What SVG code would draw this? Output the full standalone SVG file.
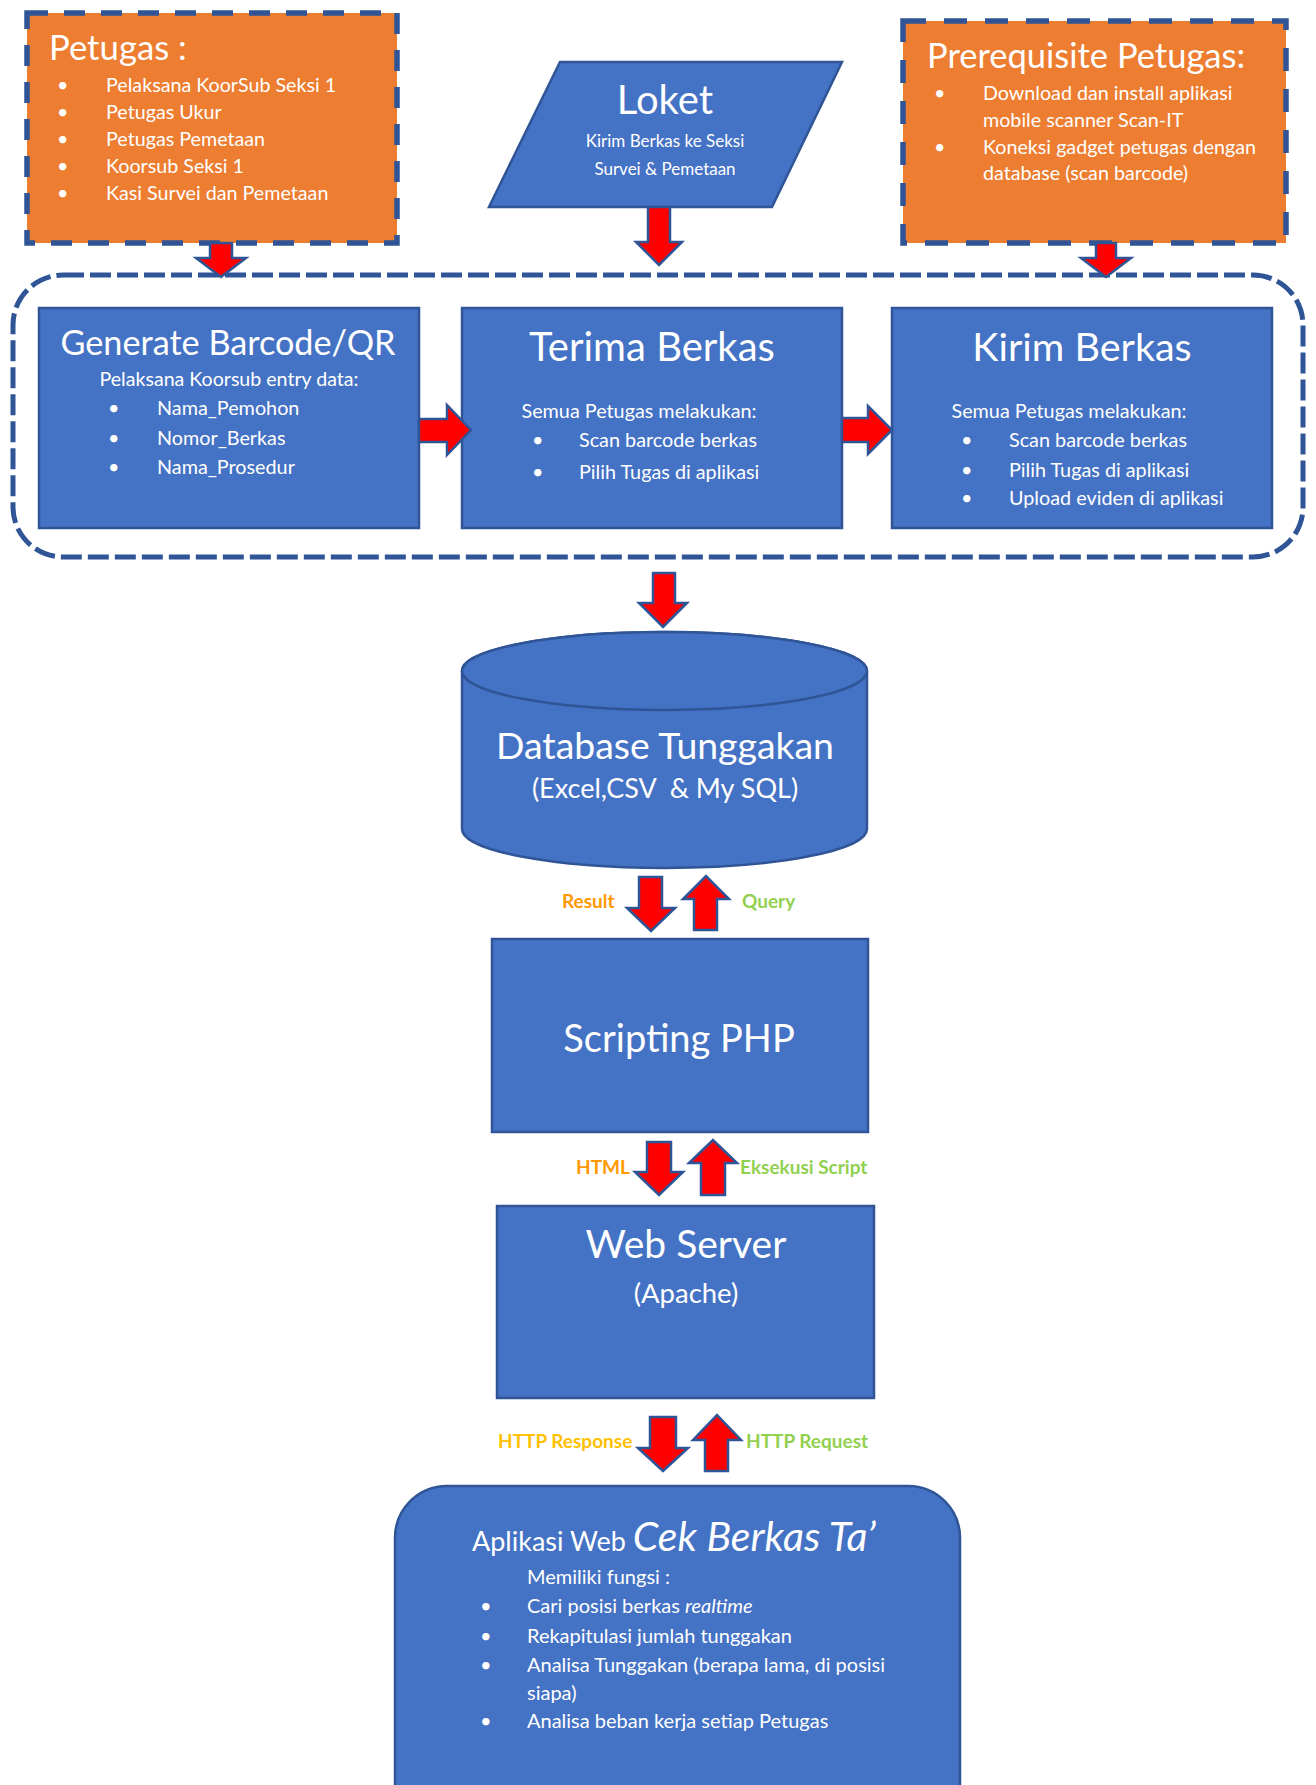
<svg xmlns="http://www.w3.org/2000/svg" width="1316" height="1785" viewBox="0 0 1316 1785">
<style>
text{font-family:Lato,"Liberation Sans",sans-serif;fill:#fff}
.box{fill:#4472C4;stroke:#2F5597;stroke-width:2.5}
.org{fill:#ED7D31;stroke:#2F5597;stroke-width:5.5}
.arr{fill:#FF0000;stroke:#2F5597;stroke-width:2.5;stroke-linejoin:miter}
.c{text-anchor:middle}
.lbl{font-weight:bold;font-size:19px}
.o{fill:#FF9900}.y{fill:#FFC000}.g{fill:#92D050}
.li{font-size:19.7px}
.li2{font-size:19.8px}
</style>
<rect width="1316" height="1785" fill="#fff"/>

<g id="container">
<rect x="13" y="275" width="1290" height="282" rx="50" fill="none" stroke="#2F5597" stroke-width="5" stroke-dasharray="21 6"/>
</g>

<g id="petugas">
<rect class="org" x="27" y="13" width="370" height="230" stroke-dasharray="21 16"/>
<text x="49" y="60" font-size="34.7">Petugas :</text>
<g class="li">
<text x="57" y="92">•</text><text x="106" y="92">Pelaksana KoorSub Seksi 1</text>
<text x="57" y="119">•</text><text x="106" y="119">Petugas Ukur</text>
<text x="57" y="146">•</text><text x="106" y="146">Petugas Pemetaan</text>
<text x="57" y="173">•</text><text x="106" y="173">Koorsub Seksi 1</text>
<text x="57" y="200">•</text><text x="106" y="200">Kasi Survei dan Pemetaan</text>
</g>
</g>

<g id="loket">
<polygon class="box" points="560,62 842,62 772,207 489,207"/>
<text class="c" x="665" y="114" font-size="40">Loket</text>
<text class="c" x="665" y="147" font-size="17">Kirim Berkas ke Seksi</text>
<text class="c" x="665" y="175" font-size="17">Survei &amp; Pemetaan</text>
</g>

<g id="prerequisite">
<rect class="org" x="903" y="21" width="383" height="222" stroke-dasharray="23 18"/>
<text x="927" y="68" font-size="34.5">Prerequisite Petugas:</text>
<g class="li">
<text x="934" y="100">•</text><text x="983" y="100">Download dan install aplikasi</text>
<text x="983" y="127">mobile scanner Scan-IT</text>
<text x="934" y="154">•</text><text x="983" y="154">Koneksi gadget petugas dengan</text>
<text x="983" y="180">database (scan barcode)</text>
</g>
</g>

<g id="generate">
<rect class="box" x="39" y="308" width="380" height="220"/>
<text class="c" x="228" y="355" font-size="34.2">Generate Barcode/QR</text>
<text class="c" x="229" y="386" font-size="19.6">Pelaksana Koorsub entry data:</text>
<g class="li2">
<text x="108" y="415">•</text><text x="157" y="415">Nama_Pemohon</text>
<text x="108" y="445">•</text><text x="157" y="445">Nomor_Berkas</text>
<text x="108" y="474">•</text><text x="157" y="474">Nama_Prosedur</text>
</g>
</g>

<g id="terima">
<rect class="box" x="462" y="308" width="380" height="220"/>
<text class="c" x="652" y="361" font-size="40">Terima Berkas</text>
<text class="c" x="639" y="418" font-size="19.8">Semua Petugas melakukan:</text>
<g class="li2">
<text x="532" y="447">•</text><text x="579" y="447">Scan barcode berkas</text>
<text x="532" y="479">•</text><text x="579" y="479">Pilih Tugas di aplikasi</text>
</g>
</g>

<g id="kirim">
<rect class="box" x="892" y="308" width="380" height="220"/>
<text class="c" x="1082" y="361" font-size="39.5">Kirim Berkas</text>
<text class="c" x="1069" y="418" font-size="19.8">Semua Petugas melakukan:</text>
<g class="li2">
<text x="961" y="447">•</text><text x="1009" y="447">Scan barcode berkas</text>
<text x="961" y="477">•</text><text x="1009" y="477">Pilih Tugas di aplikasi</text>
<text x="961" y="505">•</text><text x="1009" y="505">Upload eviden di aplikasi</text>
</g>
</g>

<g id="database">
<path class="box" d="M462,671 L462,829 A202.5,39 0 0 0 867,829 L867,671 A202.5,39 0 0 0 462,671 Z"/>
<ellipse class="box" cx="664.5" cy="671" rx="202.5" ry="39"/>
<text class="c" x="665" y="759" font-size="37.4">Database Tunggakan</text>
<text class="c" x="665" y="798" font-size="27" xml:space="preserve">(Excel,CSV  &amp; My SQL)</text>
</g>

<g id="scripting">
<rect class="box" x="492" y="939" width="376" height="193"/>
<text class="c" x="679" y="1052" font-size="38">Scripting PHP</text>
</g>

<g id="webserver">
<rect class="box" x="497" y="1206" width="377" height="192"/>
<text class="c" x="686" y="1258" font-size="39">Web Server</text>
<text class="c" x="686" y="1303" font-size="27.5">(Apache)</text>
</g>

<g id="aplikasi">
<rect class="box" x="395" y="1486" width="565" height="360" rx="52"/>
<text x="472" y="1551"><tspan font-size="27">Aplikasi Web </tspan><tspan font-size="41" font-style="italic">Cek Berkas Ta’</tspan></text>
<g font-size="20">
<text x="527" y="1584">Memiliki fungsi :</text>
<text x="480" y="1613">•</text><text x="527" y="1613">Cari posisi berkas <tspan font-style="italic">realtime</tspan></text>
<text x="480" y="1643">•</text><text x="527" y="1643">Rekapitulasi jumlah tunggakan</text>
<text x="480" y="1672">•</text><text x="527" y="1672">Analisa Tunggakan (berapa lama, di posisi</text>
<text x="527" y="1700">siapa)</text>
<text x="480" y="1728">•</text><text x="527" y="1728">Analisa beban kerja setiap Petugas</text>
</g>
</g>

<g id="connectors">
<polygon class="arr" points="210,243 232,243 232,258 246,258 221,277 196,258 210,258"/>
<polygon class="arr" points="648,207 670,207 670,242 682,242 659,265 636,242 648,242"/>
<polygon class="arr" points="1096,243 1116,243 1116,258 1131,258 1106,277 1081,258 1096,258"/>
<polygon class="arr" points="419,419 447,419 447,405 471,430 447,455 447,442 419,442"/>
<polygon class="arr" points="842,418 868,418 868,406 892,430 868,454 868,442 842,442"/>
<polygon class="arr" points="653,573 675,573 675,603 687,603 663,627 639,603 653,603"/>
<polygon class="arr" points="639,877 662,877 662,908 675,908 651,931 627,908 639,908"/>
<polygon class="arr" points="694,930 717,930 717,899 729,899 706,876 683,899 694,899"/>
<polygon class="arr" points="647,1142 671,1142 671,1172 683,1172 659,1195 635,1172 647,1172"/>
<polygon class="arr" points="701,1195 725,1195 725,1163 737,1163 713,1140 689,1163 701,1163"/>
<polygon class="arr" points="650,1417 676,1417 676,1448 688,1448 663,1471 638,1448 650,1448"/>
<polygon class="arr" points="705,1471 728,1471 728,1440 741,1440 717,1415 693,1440 705,1440"/>
<text class="lbl o" x="562" y="908">Result</text>
<text class="lbl g" x="742" y="908">Query</text>
<text class="lbl o" x="576" y="1174" font-size="18">HTML</text>
<text class="lbl g" x="740" y="1174">Eksekusi Script</text>
<text class="lbl y" x="498" y="1448" font-size="18.7">HTTP Response</text>
<text class="lbl g" x="746" y="1448">HTTP Request</text>
</g>
</svg>
